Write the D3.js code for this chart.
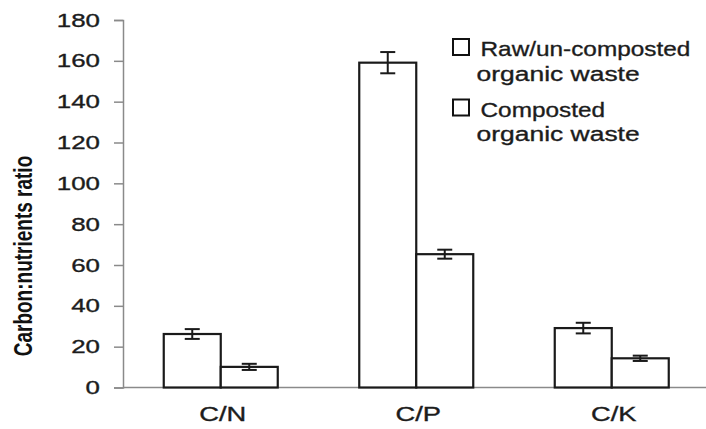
<!DOCTYPE html>
<html><head><meta charset="utf-8">
<script src="https://cdn.jsdelivr.net/npm/d3@7"></script>
<style>
body{margin:0;background:#fff;}
text{font-family:"Liberation Sans",Arial,sans-serif;fill:#1c1c1c;stroke:#1c1c1c;stroke-width:0.35px;}
</style></head><body>
<svg id="c" width="706" height="429"></svg>
<script>
const categories = ["C/N", "C/P", "C/K"];
const seriesNames = ["Raw/un-composted organic waste", "Composted organic waste"];
const legendLines = [["Raw/un-composted", "organic waste"], ["Composted", "organic waste"]];
const rawValues = [26.2, 159.1, 29.1];
const rawErrors = [2.4, 5.2, 2.6];
const compostedValues = [10.1, 65.3, 14.3];
const compostedErrors = [1.5, 2.2, 1.3];
const yTicks = [0, 20, 40, 60, 80, 100, 120, 140, 160, 180];
const yLabel = "Carbon:nutrients ratio";

const svg = d3.select("#c");
const W = 706, H = 429;
const m = {left: 123, top: 20, bottom: 387.5, right: 709.5};
const sx = 1.4; // horizontal stretch of the original picture's text

const x0 = d3.scaleBand().domain(categories).range([m.left, m.right]).padding(0);
const groupW = 114;
const x1 = d3.scaleBand().domain(seriesNames).range([0, groupW]).padding(0);
const y = d3.scaleLinear().domain([0, 180]).range([m.bottom, m.top]);

const data = categories.map((c, i) => ({
  cat: c,
  vals: [
    {s: seriesNames[0], v: rawValues[i], e: rawErrors[i]},
    {s: seriesNames[1], v: compostedValues[i], e: compostedErrors[i]}
  ]
}));

// y axis
const yAxis = svg.append("g").attr("transform", `translate(${m.left},0)`)
  .call(d3.axisLeft(y).tickValues(yTicks).tickSize(9).tickFormat(""));
yAxis.select(".domain").attr("stroke", "#8a8a8a").attr("stroke-width", 1.5);
yAxis.selectAll(".tick line").attr("stroke", "#8a8a8a").attr("stroke-width", 1.5);
svg.append("g").selectAll("text").data(yTicks).join("text")
  .attr("transform", d => `translate(100,${y(d)}) scale(${sx},1)`)
  .attr("text-anchor", "end").attr("dy", "0.36em")
  .style("font-size", "18.5px").text(d => d);

// x axis line
svg.append("line").attr("x1", m.left).attr("x2", W).attr("y1", y(0)).attr("y2", y(0))
  .attr("stroke", "#8a8a8a").attr("stroke-width", 1.5);

// category labels
svg.append("g").selectAll("text").data(categories).join("text")
  .attr("transform", d => `translate(${x0(d) + x0.bandwidth() / 2 + 2},421) scale(${sx},1)`)
  .attr("text-anchor", "middle").style("font-size", "19.5px").text(d => d);

// bars
const g = svg.append("g").selectAll("g").data(data).join("g")
  .attr("transform", d => `translate(${x0(d.cat) + (x0.bandwidth() - groupW) / 2},0)`);
g.selectAll("rect").data(d => d.vals).join("rect")
  .attr("x", d => x1(d.s)).attr("width", x1.bandwidth())
  .attr("y", d => y(d.v)).attr("height", d => y(0) - y(d.v))
  .attr("fill", "#fff").attr("stroke", "#1a1a1a").attr("stroke-width", 2.2);

// error bars
const eb = g.selectAll("g.err").data(d => d.vals).join("g").attr("class", "err");
const cap = 7.5;
eb.append("line")
  .attr("x1", d => x1(d.s) + x1.bandwidth() / 2).attr("x2", d => x1(d.s) + x1.bandwidth() / 2)
  .attr("y1", d => y(d.v + d.e)).attr("y2", d => y(d.v - d.e))
  .attr("stroke", "#1a1a1a").attr("stroke-width", 2);
eb.selectAll("line.cap").data(d => [{d, v: d.v + d.e}, {d, v: d.v - d.e}]).join("line")
  .attr("class", "cap")
  .attr("x1", o => x1(o.d.s) + x1.bandwidth() / 2 - cap).attr("x2", o => x1(o.d.s) + x1.bandwidth() / 2 + cap)
  .attr("y1", o => y(o.v)).attr("y2", o => y(o.v))
  .attr("stroke", "#1a1a1a").attr("stroke-width", 2);

// y label
svg.append("text")
  .attr("transform", `translate(32,256) scale(1.4,1) rotate(-90)`)
  .attr("text-anchor", "middle")
  .style("font-size", "19px").style("font-weight", "bold").style("fill", "#111").style("stroke", "none")
  .text(yLabel);

// legend
const lg = svg.append("g").selectAll("g").data(legendLines).join("g")
  .attr("transform", (d, i) => `translate(453,${39 + i * 60.5})`);
lg.append("rect").attr("x", 0).attr("y", 0).attr("width", 16).attr("height", 16)
  .attr("fill", "#fff").attr("stroke", "#111").style("stroke-width", "2px");
lg.each(function(lines) {
  const gg = d3.select(this);
  lines.forEach((t, j) => {
    gg.append("text")
      .attr("transform", `translate(${j === 0 ? 27.5 : 23.5},${17 + j * 24.5}) scale(${j === 0 ? 1.16 : 1.26},1)`)
      .style("font-size", "21px").text(t);
  });
});
</script></body></html>
